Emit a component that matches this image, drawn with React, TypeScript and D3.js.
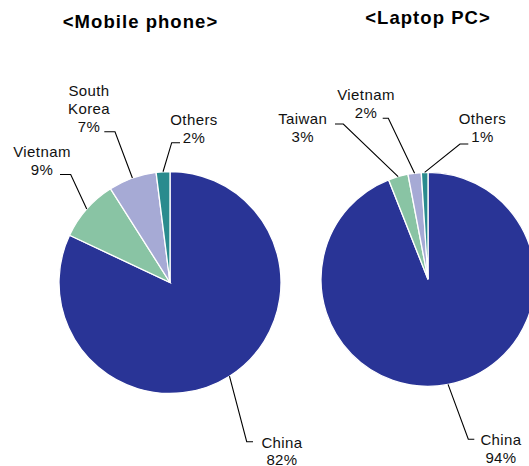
import React from "react";
import * as d3 from "d3";

const mobileCategories = ["China", "Vietnam", "South Korea", "Others"];
const mobileValues = [82, 9, 7, 2];
const mobileLabels = [["China", "82%"], ["Vietnam", "9%"], ["South", "Korea", "7%"], ["Others", "2%"]];

const laptopCategories = ["China", "Taiwan", "Vietnam", "Others"];
const laptopValues = [94, 3, 2, 1];
const laptopLabels = [["China", "94%"], ["Taiwan", "3%"], ["Vietnam", "2%"], ["Others", "1%"]];

const COLORS: Record<string, string> = {
  China: "#293496",
  Vietnam: "#89c4a4",
  "South Korea": "#a6aad5",
  Others: "#2a8b8e",
};
const LAPTOP_COLORS: Record<string, string> = {
  China: "#293496",
  Taiwan: "#89c4a4",
  Vietnam: "#a6aad5",
  Others: "#2a8b8e",
};

type LabelLayout = { elbow: [number, number]; end: [number, number]; x: number; y: number; lh?: number };

const FONT = "'Liberation Sans', Arial, sans-serif";

function Pie(props: {
  title: string;
  titleX: number;
  titleY: number;
  cx: number;
  cy: number;
  r: number;
  categories: string[];
  values: number[];
  labels: string[][];
  colors: Record<string, string>;
  layout: LabelLayout[];
}) {
  const { cx, cy, r, categories, values, labels, colors, layout } = props;
  const pie = d3.pie<number>().sort(null).value((d) => d)(values);
  const arc = d3.arc<d3.PieArcDatum<number>>().innerRadius(0).outerRadius(r);
  const edge = d3.arc<d3.PieArcDatum<number>>().innerRadius(r).outerRadius(r);
  return (
    <g>
      <text
        x={props.titleX}
        y={props.titleY}
        textAnchor="middle"
        fontFamily={FONT}
        fontWeight="bold"
        fontSize={18.5}
        letterSpacing={1.05}
        fill="#000"
      >
        {props.title}
      </text>
      <g transform={`translate(${cx},${cy})`}>
        {pie.map((p, i) => (
          <path key={i} d={arc(p) || ""} fill={colors[categories[i]]} stroke="#fff" strokeWidth={1.3} />
        ))}
      </g>
      {pie.map((p, i) => {
        const c = edge.centroid(p);
        const L = layout[i];
        const pts = [[cx + c[0], cy + c[1]], L.elbow, L.end];
        return (
          <g key={"l" + i}>
            <polyline
              points={pts.map((q) => q.join(",")).join(" ")}
              fill="none"
              stroke="#000"
              strokeWidth={1.1}
            />
            <text
              x={L.x}
              y={L.y}
              textAnchor="middle"
              fontFamily={FONT}
              fontSize={15}
              letterSpacing={0.4}
              fill="#111"
            >
              {labels[i].map((t, k) => (
                <tspan key={k} x={L.x} dy={k === 0 ? 0 : L.lh || 18}>
                  {t}
                </tspan>
              ))}
            </text>
          </g>
        );
      })}
    </g>
  );
}

export default function App() {
  const mobileLayout: LabelLayout[] = [
    { elbow: [246.7, 441.7], end: [253, 441.7], x: 282, y: 447.5, lh: 17 },
    { elbow: [70.7, 174.5], end: [60, 174.5], x: 42, y: 157 },
    { elbow: [115, 131.7], end: [104.3, 131.7], x: 89, y: 95.5 },
    { elbow: [171.7, 142.7], end: [180, 142.7], x: 194, y: 125 },
  ];
  const laptopLayout: LabelLayout[] = [
    { elbow: [468.3, 439.3], end: [474.3, 439.3], x: 501, y: 445 },
    { elbow: [343.3, 124], end: [335, 124], x: 302.7, y: 124 },
    { elbow: [388.3, 118.3], end: [382.7, 118.3], x: 366, y: 100 },
    { elbow: [460, 144], end: [468.3, 144], x: 482.5, y: 124 },
  ];
  return (
    <svg
      width={529}
      height={466}
      style={{ position: "absolute", left: 0, top: 0, background: "#fff" }}
    >
      <Pie
        title="<Mobile phone>"
        titleX={140.5}
        titleY={28}
        cx={170}
        cy={282.5}
        r={111}
        categories={mobileCategories}
        values={mobileValues}
        labels={mobileLabels}
        colors={COLORS}
        layout={mobileLayout}
      />
      <Pie
        title="<Laptop PC>"
        titleX={428}
        titleY={24}
        cx={428}
        cy={279.3}
        r={107}
        categories={laptopCategories}
        values={laptopValues}
        labels={laptopLabels}
        colors={LAPTOP_COLORS}
        layout={laptopLayout}
      />
    </svg>
  );
}
